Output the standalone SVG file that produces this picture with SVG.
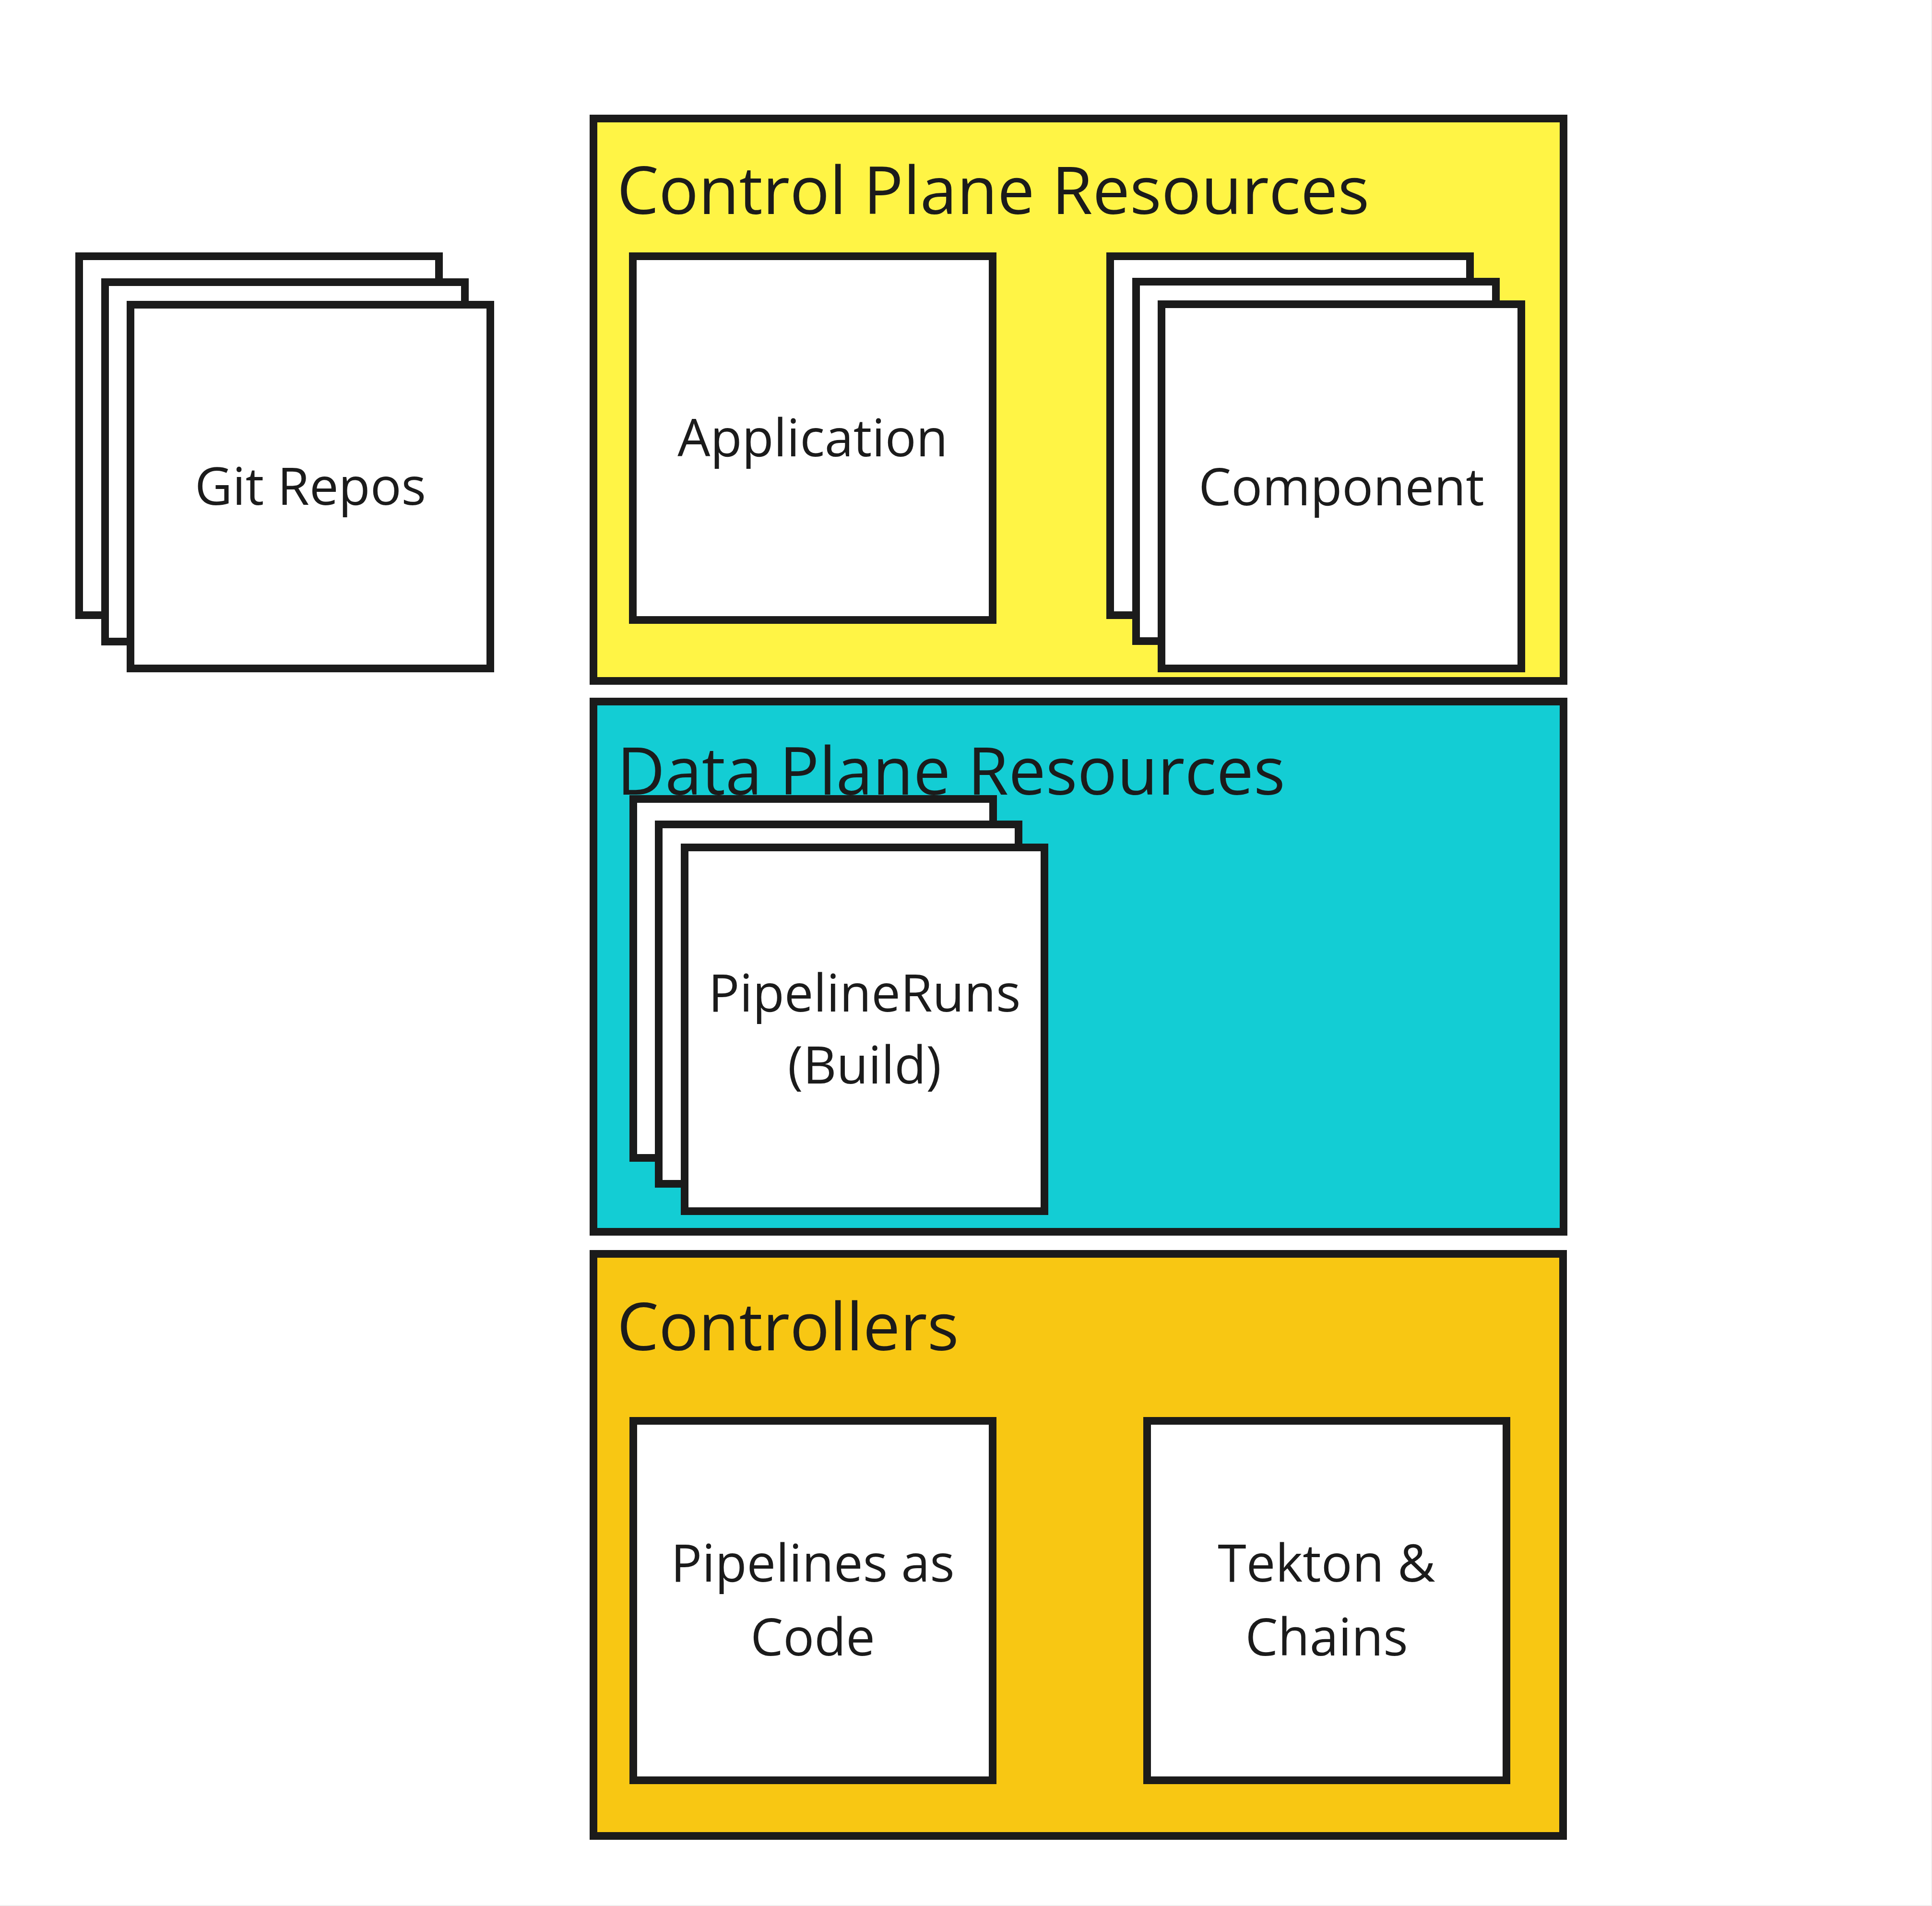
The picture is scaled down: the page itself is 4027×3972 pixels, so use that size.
<svg xmlns="http://www.w3.org/2000/svg" width="4027" height="3972" viewBox="0 0 4027 3972">
  <style>
    .box { stroke: #1b1b1b; stroke-width: 16; }
    .card { fill: #ffffff; stroke: #1b1b1b; stroke-width: 16; }
    .title { font-family: "Open Sans", "Noto Sans", sans-serif; font-size: 138px; fill: #1b1b1b; }
    .label { font-family: "Open Sans", "Noto Sans", sans-serif; font-size: 108px; fill: #1b1b1b; text-anchor: middle; }
  </style>
  <rect x="0" y="0" width="4027" height="3972" fill="#ffffff"/>
  <rect x="4025" y="0" width="2" height="3972" fill="#efefef"/>
  <rect x="0" y="3970" width="4027" height="2" fill="#efefef"/>

  <g id="control-plane">
    <rect class="box" x="1237" y="247" width="2022" height="1172" fill="#fff445"/>
    <text class="title" x="1286" y="446">Control Plane Resources</text>
  </g>
  <g id="data-plane">
    <rect class="box" x="1237" y="1462" width="2022" height="1105" fill="#13cdd4"/>
    <text class="title" x="1286" y="1656">Data Plane Resources</text>
  </g>
  <g id="controllers">
    <rect class="box" x="1237" y="2613" width="2021" height="1213" fill="#f8c713"/>
    <text class="title" x="1286" y="2814">Controllers</text>
  </g>

  <g id="git-repos">
    <rect class="card" x="165" y="534" width="750" height="748"/>
    <rect class="card" x="219" y="588" width="750" height="749"/>
    <rect class="card" x="272" y="635" width="750" height="758"/>
    <text class="label" x="647" y="1052">Git Repos</text>
  </g>
  <g id="application">
    <rect class="card" x="1319" y="534" width="750" height="758"/>
    <text class="label" x="1694" y="951">Application</text>
  </g>
  <g id="component">
    <rect class="card" x="2314" y="534" width="750" height="748"/>
    <rect class="card" x="2368" y="587" width="750" height="749"/>
    <rect class="card" x="2421" y="634" width="750" height="759"/>
    <text class="label" x="2796" y="1053">Component</text>
  </g>
  <g id="pipelineruns">
    <rect class="card" x="1320" y="1665" width="750" height="748"/>
    <rect class="card" x="1373" y="1718" width="750" height="749"/>
    <rect class="card" x="1427" y="1766" width="750" height="758"/>
    <text class="label" x="1802" y="2108">PipelineRuns</text>
    <text class="label" x="1802" y="2258">(Build)</text>
  </g>
  <g id="pipelines-as-code">
    <rect class="card" x="1320" y="2961" width="749" height="749"/>
    <text class="label" x="1694" y="3296">Pipelines as</text>
    <text class="label" x="1694" y="3450">Code</text>
  </g>
  <g id="tekton-chains">
    <rect class="card" x="2391" y="2961" width="749" height="749"/>
    <text class="label" x="2765" y="3296">Tekton &amp;</text>
    <text class="label" x="2765" y="3450">Chains</text>
  </g>
  <g id="connectors"></g>
</svg>
